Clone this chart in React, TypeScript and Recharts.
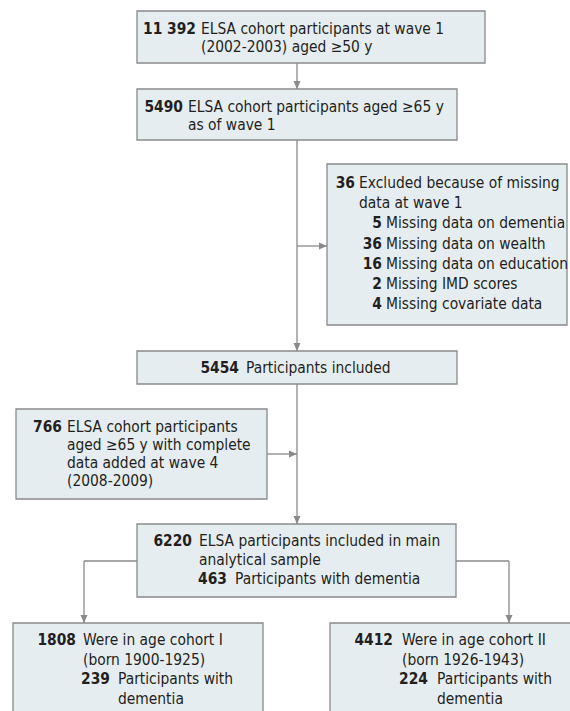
import React from "react";
import {
  ComposedChart,
  XAxis,
  YAxis,
  Scatter,
  ReferenceArea,
  ReferenceLine,
} from "recharts";

// box contents: n = bold count, t = text, sub = second-level indent
const wave1Lines = [
  { n: "11 392", t: "ELSA cohort participants at wave 1" },
  { n: "", t: "(2002-2003) aged ≥50 y" },
];
const aged65Lines = [
  { n: "5490", t: "ELSA cohort participants aged ≥65 y" },
  { n: "", t: "as of wave 1" },
];
const excludedLines = [
  { n: "36", t: "Excluded because of missing" },
  { n: "", t: "data at wave 1" },
  { n: "5", t: "Missing data on dementia", sub: true },
  { n: "36", t: "Missing data on wealth", sub: true },
  { n: "16", t: "Missing data on education", sub: true },
  { n: "2", t: "Missing IMD scores", sub: true },
  { n: "4", t: "Missing covariate data", sub: true },
];
const includedLines = [{ n: "5454", t: "Participants included" }];
const addedLines = [
  { n: "766", t: "ELSA cohort participants" },
  { n: "", t: "aged ≥65 y with complete" },
  { n: "", t: "data added at wave 4" },
  { n: "", t: "(2008-2009)" },
];
const sampleLines = [
  { n: "6220", t: "ELSA participants included in main" },
  { n: "", t: "analytical sample" },
  { n: "463", t: "Participants with dementia", sub: true },
];
const cohort1Lines = [
  { n: "1808", t: "Were in age cohort I" },
  { n: "", t: "(born 1900-1925)" },
  { n: "239", t: "Participants with", sub: true },
  { n: "", t: "dementia", sub: true },
];
const cohort2Lines = [
  { n: "4412", t: "Were in age cohort II" },
  { n: "", t: "(born 1926-1943)" },
  { n: "224", t: "Participants with", sub: true },
  { n: "", t: "dementia", sub: true },
];

// layout (pixel space of the 570x711 canvas)
const W = 570;
const H = 711;
const boxes = [
  { lines: wave1Lines, x1: 137, x2: 485, y1: 11, y2: 63, numX: 196, textX: 201, subNumX: 0, subTextX: 0, y0: 34, lh: 18 },
  { lines: aged65Lines, x1: 137, x2: 457, y1: 89, y2: 140, numX: 183, textX: 188, subNumX: 0, subTextX: 0, y0: 112, lh: 18 },
  { lines: excludedLines, x1: 327, x2: 567, y1: 164, y2: 325, numX: 355, textX: 359, subNumX: 382, subTextX: 386, y0: 188, lh: 20.2 },
  { lines: includedLines, x1: 137, x2: 457, y1: 351, y2: 384, numX: 239, textX: 246, subNumX: 0, subTextX: 0, y0: 373, lh: 18 },
  { lines: addedLines, x1: 16, x2: 267, y1: 409, y2: 499, numX: 62, textX: 67, subNumX: 0, subTextX: 0, y0: 432, lh: 18 },
  { lines: sampleLines, x1: 137, x2: 456, y1: 524, y2: 597, numX: 192, textX: 199, subNumX: 227, subTextX: 235, y0: 546, lh: 19 },
  { lines: cohort1Lines, x1: 13, x2: 263, y1: 623, y2: 730, numX: 76, textX: 83, subNumX: 110, subTextX: 118, y0: 645, lh: 19.7 },
  { lines: cohort2Lines, x1: 330, x2: 580, y1: 623, y2: 730, numX: 393, textX: 402, subNumX: 428, subTextX: 437, y0: 645, lh: 19.7 },
];

const links = [
  [{ x: 297, y: 63 }, { x: 297, y: 89 }],
  [{ x: 297, y: 140 }, { x: 297, y: 351 }],
  [{ x: 297, y: 246 }, { x: 327, y: 246 }],
  [{ x: 267, y: 454 }, { x: 297, y: 454 }],
  [{ x: 297, y: 384 }, { x: 297, y: 524 }],
  [{ x: 137, y: 561 }, { x: 84, y: 561 }],
  [{ x: 84, y: 561 }, { x: 84, y: 623 }],
  [{ x: 456, y: 561 }, { x: 509, y: 561 }],
  [{ x: 509, y: 561 }, { x: 509, y: 623 }],
];

const arrowTips = [
  { x: 297, y: 89, dir: "down" },
  { x: 327, y: 246, dir: "right" },
  { x: 297, y: 454, dir: "right" },
  { x: 297, y: 351, dir: "down" },
  { x: 297, y: 524, dir: "down" },
  { x: 84, y: 623, dir: "down" },
  { x: 509, y: 623, dir: "down" },
];

const FONT = "'DejaVu Sans Condensed', 'DejaVu Sans', sans-serif";
const FS = 15.4;
const LINE = "#8a8a8a";
const FILL = "#e6edf1";
const INK = "#231f20";

const numPoints = boxes.flatMap((b) =>
  b.lines
    .map((l, i) => ({ x: l.sub ? b.subNumX : b.numX, y: b.y0 + i * b.lh, label: l.n }))
    .filter((p) => p.label !== "")
);
const textPoints = boxes.flatMap((b) =>
  b.lines.map((l, i) => ({ x: l.sub ? b.subTextX : b.textX, y: b.y0 + i * b.lh, label: l.t }))
);

function NumShape(props: any) {
  return (
    <text x={props.cx} y={props.cy} textAnchor="end" fontFamily={FONT} fontSize={FS} fontWeight={700} fill={INK}>
      {props.payload.label}
    </text>
  );
}

function TextShape(props: any) {
  return (
    <text x={props.cx} y={props.cy} textAnchor="start" fontFamily={FONT} fontSize={FS} fill={INK}>
      {props.payload.label}
    </text>
  );
}

function ArrowShape(props: any) {
  const { cx, cy } = props;
  const d = props.payload.dir;
  const pts =
    d === "down"
      ? `${cx},${cy} ${cx - 3.5},${cy - 8} ${cx + 3.5},${cy - 8}`
      : `${cx},${cy} ${cx - 8},${cy - 3.5} ${cx - 8},${cy + 3.5}`;
  return <polygon points={pts} fill={LINE} />;
}

export default function App() {
  return (
    <div style={{ width: W, height: H, background: "#fff" }}>
      <style>{`body{margin:0}`}</style>
      <ComposedChart width={W} height={H} margin={{ top: 0, right: 0, bottom: 0, left: 0 }}>
        <XAxis type="number" dataKey="x" domain={[0, W]} hide allowDataOverflow />
        <YAxis type="number" dataKey="y" domain={[0, H]} reversed hide allowDataOverflow />
        {boxes.map((b, i) => (
          <ReferenceArea
            key={`box-${i}`}
            x1={b.x1}
            x2={b.x2}
            y1={b.y1}
            y2={b.y2}
            fill={FILL}
            fillOpacity={1}
            stroke={LINE}
            strokeWidth={1.3}
            ifOverflow="visible"
          />
        ))}
        {links.map((seg, i) => (
          <ReferenceLine key={`link-${i}`} segment={seg} stroke={LINE} strokeWidth={1.3} ifOverflow="visible" />
        ))}
        <Scatter data={arrowTips} shape={<ArrowShape />} isAnimationActive={false} />
        <Scatter data={numPoints} shape={<NumShape />} isAnimationActive={false} />
        <Scatter data={textPoints} shape={<TextShape />} isAnimationActive={false} />
      </ComposedChart>
    </div>
  );
}
